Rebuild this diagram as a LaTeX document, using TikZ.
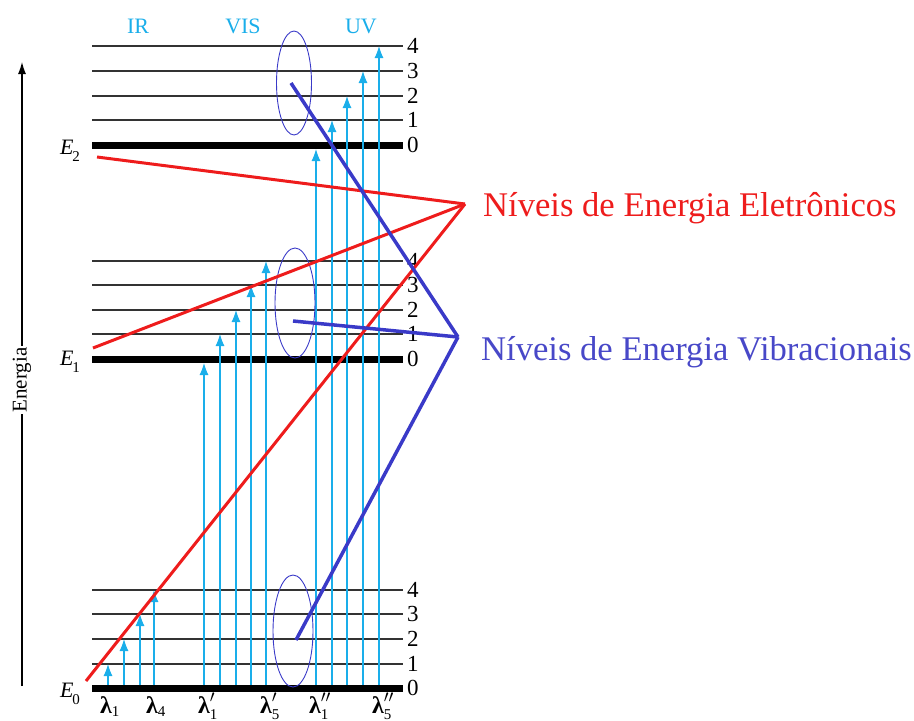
\documentclass[tikz,border=0pt]{standalone}
\usepackage{fontspec}
\setmainfont{Liberation Serif}
\usetikzlibrary{arrows.meta}
\definecolor{cy}{HTML}{1AAEEA}
\definecolor{rd}{HTML}{EE1C1C}
\definecolor{bl}{HTML}{3A3AC8}
\definecolor{bltxt}{HTML}{4848C8}
\newcommand\levlab[1]{\textit{E}\kern-0.05em\raisebox{-0.3em}{\fontsize{15}{15}\selectfont #1}}
\newcommand\lamlab[2]{$\mbox{\bfseries λ}#1_{\mbox{\fontsize{15}{15}\selectfont #2}}$}
\begin{document}
\begin{tikzpicture}[x=1pt,y=-1pt,
  lvl/.style={line width=1.3pt, draw=black!80},
  gnd/.style={line width=7pt, draw=black},
  up/.style={draw=cy, line width=1.1pt, -{Latex[length=12pt,width=9pt]}},
  num/.style={font=\fontsize{23}{23}\selectfont, anchor=west, inner sep=0pt},
  elab/.style={font=\fontsize{22}{22}\selectfont, inner sep=0pt},
  lam/.style={font=\fontsize{24}{24}\selectfont, anchor=base, inner sep=0pt},
  band/.style={font=\fontsize{22}{22}\selectfont, text=cy, inner sep=0pt},
  redl/.style={draw=rd, line width=3pt},
  bluel/.style={draw=bl, line width=3.5pt},
  ell/.style={draw=bl, line width=0.9pt},
  big/.style={font=\fontsize{34.6}{34.6}\selectfont, anchor=base west, inner sep=0pt}
]
\useasboundingbox (0,0) rectangle (914,721);
% energy axis
\coordinate (axb) at (22,686);
\coordinate (axt) at (22,62);
\draw[line width=1.1pt, -{Latex[length=12pt,width=8pt]}] (axb) -- (axt);
\node[rotate=90, fill=white, inner sep=2pt, font=\fontsize{21}{21}\selectfont] (en) at (22,380) {Energia};
% band labels
\node[band] (ir) at (138,26) {IR};
\node[band] (vis) at (243,26) {VIS};
\node[band] (uv) at (361,26) {UV};
% levels
\foreach \y/\n in {46/4,71/3,96/2,120/1} {
  \draw[lvl] (92,\y) -- (403,\y); \node[num] (t\n) at (407,\y) {\n};}
\foreach \y/\n in {261/4,285/3,310/2,334/1} {
  \draw[lvl] (92,\y) -- (403,\y); \node[num] (m\n) at (407,\y) {\n};}
\foreach \y/\n in {590/4,614/3,639/2,664/1} {
  \draw[lvl] (92,\y) -- (403,\y); \node[num] (b\n) at (407,\y) {\n};}
\draw[gnd] (92,145) -- (403,145); \node[num] (t0) at (407,145) {0};
\draw[gnd] (92,359) -- (403,359); \node[num] (m0) at (407,359) {0};
\draw[gnd] (92,688) -- (403,688); \node[num] (b0) at (407,688) {0};
\node[elab] (E2) at (70,151) {\levlab{2}};
\node[elab] (E1) at (70,362) {\levlab{1}};
\node[elab] (E0) at (70,694) {\levlab{0}};
% transitions
\foreach \x/\y in {108/664,124/639,140/614,154/590,
                   204/363,220/334,236/310,251/285,266/261,
                   316/149,332/120,347/96,363/71,379/46}
  \draw[up] (\x,685) -- (\x,\y);
% wavelength labels
\node[lam] (l1) at (110,713) {\lamlab{}{1}};
\node[lam] (l4) at (156,713) {\lamlab{}{4}};
\node[lam] (lp1) at (208,713) {\lamlab{'}{1}};
\node[lam] (lp5) at (270,713) {\lamlab{'}{5}};
\node[lam] (lpp1) at (320,713) {\lamlab{''}{1}};
\node[lam] (lpp5) at (383,713) {\lamlab{''}{5}};
% ellipses
\draw[ell] (294,83) ellipse [x radius=17.5, y radius=52];
\draw[ell] (295,303) ellipse [x radius=20, y radius=55];
\draw[ell] (293,631) ellipse [x radius=20, y radius=56];
% pointer lines
\coordinate (rv) at (465,204);
\coordinate (bv) at (458,337);
\coordinate (r2) at (97,157);
\coordinate (r1) at (93,348);
\coordinate (r0) at (86,681);
\coordinate (v2) at (291,83);
\coordinate (v1) at (293,321);
\coordinate (v0) at (296,640);
\draw[redl] (r2) -- (rv);
\draw[redl] (r1) -- (rv);
\draw[redl] (r0) -- (rv);
\draw[bluel] (v2) -- (bv);
\draw[bluel] (v1) -- (bv);
\draw[bluel] (v0) -- (bv);
\node[big, text=rd] (elec) at (483,216) {Níveis de Energia Eletrônicos};
\node[big, text=bltxt] (vib) at (481,360) {Níveis de Energia Vibracionais};
\end{tikzpicture}
\end{document}
